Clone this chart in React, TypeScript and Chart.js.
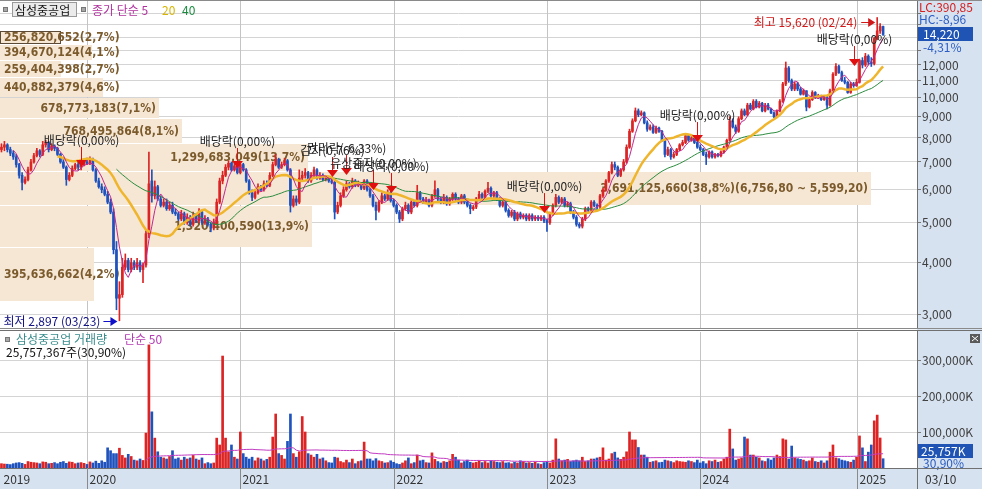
import React, { useEffect, useRef } from 'react';
import { Chart, registerables } from 'chart.js';
Chart.register(...registerables);

// ---------------- data (weekly, 2019-06 .. 2025-03-10) ----------------
const stockName = '삼성중공업';
const opens = [
7500,7600,7700,7500,7350,7200,6900,6500,6250,6350,
6700,7000,7250,7450,7300,7700,7800,7500,7650,7550,
7300,7000,6800,6350,6500,6750,6900,6800,6900,7000,
6950,7100,6700,6300,6100,6000,5850,5600,5300,4300,
3284,3350,3900,4050,3850,4000,3900,4000,3850,3950,
4700,6300,5800,6100,5700,5500,5600,5400,5500,5300,
5250,5100,5250,5000,5150,4950,5200,5050,5300,5000,
5100,4950,4850,5000,5600,6300,6500,6800,6950,6700,
6850,6600,6900,6700,6300,5900,5750,5900,6100,6000,
6200,6150,6500,6900,7100,6800,6900,7050,6700,5500,
5700,5600,6400,6500,6600,6300,6500,6700,6400,6500,
6350,6400,6300,6250,5300,5500,5800,6000,6200,6100,
6300,6150,6200,6050,6300,6000,5800,5500,5350,5600,
5800,5700,5900,5650,5500,5300,5100,5400,5500,5300,
5600,5500,5900,5700,5600,5650,5500,5800,6000,5700,
5600,5750,5550,5700,5850,5700,5600,5800,5600,5500,
5400,5450,5700,5850,5750,5950,6050,5800,5900,5700,
5500,5600,5350,5200,5300,5100,5250,5150,5200,5100,
5200,5100,5150,5100,5150,5050,5000,5250,5500,5750,
5600,5700,5500,5550,5300,5150,4950,4900,5100,5400,
5350,5600,5500,5450,5800,6000,6300,6600,6900,6800,
6500,6700,7000,7600,8300,8800,9300,9100,9200,8700,
8400,8500,8250,8450,8300,7900,7300,7500,7200,7300,
7500,7700,7800,8100,7900,8000,7800,7600,7500,7300,
7200,7400,7200,7300,7250,7400,7600,7900,8800,8500,
8300,8900,9300,9100,9600,9400,9800,9500,9700,9300,
9600,9400,9200,9000,9300,9800,10800,11800,11000,10500,
10800,10500,10200,10400,9500,9900,10300,10000,10100,9900,
10000,9600,10400,11400,11900,11500,11000,10900,10300,10800,
10700,10900,12300,12000,12600,12200,12100,13900,14500,14860];
const highs = [
7750,7850,7750,7600,7450,7300,6950,6600,6450,6800,
7100,7350,7550,7500,7850,7900,7850,7750,7700,7600,
7350,7100,6850,6600,6850,6950,7000,6950,7100,7150,
7200,7150,6750,6400,6200,6100,5950,5700,5400,4500,
3600,4100,4200,4100,4100,4050,4100,4050,4000,4800,
7400,6700,6300,6150,5800,5700,5700,5600,5600,5400,
5300,5350,5300,5250,5200,5300,5250,5400,5350,5200,
5150,5000,5100,5700,6400,6650,6900,7050,7000,6950,
6900,7000,6950,6750,6350,6000,6000,6200,6150,6300,
6300,6600,7000,7300,7150,7000,7150,7100,6750,5800,
5800,6700,6650,6750,6650,6600,6800,6750,6600,6550,
6500,6450,6400,6300,5600,5900,6100,6300,6250,6400,
6350,6300,6250,6350,6350,6050,5850,5600,5650,5900,
5850,6000,5950,5700,5550,5350,5450,5600,5550,5650,
5650,6150,5950,5750,5750,5700,5850,6300,6050,5750,
5850,5800,5750,5900,5900,5750,5850,5850,5650,5550,
5500,5750,5950,5900,6000,6250,6100,5950,5950,5750,
5650,5650,5400,5350,5350,5300,5300,5250,5250,5250,
5250,5200,5200,5200,5200,5100,5300,5550,5850,5800,
5750,5750,5600,5600,5350,5200,5000,5150,5450,5450,
5650,5650,5550,5850,6050,6350,6650,7000,7000,6850,
6750,7100,7700,8400,8900,9450,9400,9300,9250,8800,
8600,8600,8550,8500,8350,7950,7600,7550,7400,7550,
7750,7900,8200,8150,8100,8050,7850,7700,7550,7400,
7450,7450,7350,7350,7450,7650,7950,9000,8900,8600,
9000,9400,9400,9700,9700,9900,9900,9800,9750,9700,
9700,9450,9250,9350,9900,10900,12200,11900,11100,10900,
10900,10600,10500,10400,10000,10400,10350,10200,10150,10100,
10100,10500,11500,12100,12000,11600,11200,10950,10900,10900,
11100,12400,12500,12800,12700,12500,14000,15620,15100,14900];
const lows = [
7400,7450,7400,7250,7100,6800,6400,5990,6200,6300,
6650,6950,7200,7200,7250,7600,7400,7450,7450,7250,
6950,6750,6150,6300,6450,6700,6700,6700,6850,6900,
6900,6650,6250,6050,5900,5800,5550,5250,4200,3080,
2897,3300,3850,3800,3800,3850,3850,3800,3580,3900,
4600,5600,5700,5650,5450,5450,5350,5350,5250,5200,
5050,5050,4950,4950,4900,4900,5000,5000,4950,4950,
4900,4750,4800,4950,5550,6200,6450,6700,6650,6650,
6550,6550,6650,6250,5850,5650,5700,5850,5950,5950,
6100,6100,6450,6850,6750,6750,6850,6650,5300,5450,
5500,5550,6300,6400,6250,6250,6450,6350,6350,6300,
6300,6250,6200,5100,5250,5450,5750,5950,6050,6050,
6100,6100,6000,6000,5950,5750,5450,5070,5300,5550,
5650,5650,5600,5450,5250,5000,5050,5350,5250,5250,
5450,5450,5650,5550,5550,5450,5450,5750,5650,5550,
5550,5500,5500,5650,5650,5550,5550,5550,5450,5250,
5350,5400,5650,5700,5700,5900,5750,5750,5650,5450,
5450,5300,5150,5150,5050,5050,5100,5100,5050,5050,
5050,5050,5050,5050,5000,4760,4950,5200,5450,5550,
5550,5450,5450,5250,5100,4900,4850,4850,5050,5300,
5300,5450,5400,5400,5750,5950,6250,6550,6700,6450,
6450,6650,6950,7550,8250,8750,9000,9050,8650,8300,
8350,8200,8200,8250,7850,7200,7250,7100,7150,7250,
7450,7650,7750,7850,7850,7750,7550,7450,7250,6900,
7150,7150,7150,7200,7200,7350,7550,7850,8450,8200,
8250,8850,9050,9050,9350,9350,9450,9450,9250,9250,
9350,9150,8950,8950,9250,9750,10700,10900,10400,10400,
10400,10150,10150,9300,9450,9850,9950,9950,9850,9850,
9400,9550,10350,11300,11450,10950,10800,10250,10250,10600,
10650,10850,11800,11900,12000,11900,12000,13800,14300,14150];
const closes = [
7600,7700,7500,7350,7200,6900,6500,6250,6350,6700,
7000,7250,7450,7300,7700,7800,7500,7650,7550,7300,
7000,6800,6350,6500,6750,6900,6800,6900,7000,6950,
7100,6700,6300,6100,6000,5850,5600,5300,4300,3284,
3350,3900,4050,3850,4000,3900,4000,3850,3950,4700,
6200,5800,6100,5700,5500,5600,5400,5500,5300,5250,
5100,5250,5000,5150,4950,5200,5050,5300,5000,5100,
4950,4850,5000,5600,6300,6500,6800,6950,6700,6850,
6600,6900,6700,6300,5900,5750,5900,6100,6000,6200,
6150,6500,6900,7100,6800,6900,7050,6700,5500,5700,
5600,6400,6500,6600,6300,6500,6700,6400,6500,6350,
6400,6300,6250,5300,5500,5800,6000,6200,6100,6300,
6150,6200,6050,6300,6000,5800,5500,5350,5600,5800,
5700,5900,5650,5500,5300,5100,5400,5500,5300,5600,
5500,5900,5700,5600,5650,5500,5800,6000,5700,5600,
5750,5550,5700,5850,5700,5600,5800,5600,5500,5400,
5450,5700,5850,5750,5950,6050,5800,5900,5700,5500,
5600,5350,5200,5300,5100,5250,5150,5200,5100,5200,
5100,5150,5100,5150,5050,5000,5250,5500,5750,5600,
5700,5500,5550,5300,5150,4950,4900,5100,5400,5350,
5600,5500,5450,5800,6000,6300,6600,6900,6800,6500,
6700,7000,7600,8300,8800,9300,9100,9200,8700,8400,
8500,8250,8450,8300,7900,7300,7500,7200,7300,7500,
7700,7800,8100,7900,8000,7800,7600,7500,7300,7200,
7400,7200,7300,7250,7400,7600,7900,8800,8500,8300,
8900,9300,9100,9600,9400,9800,9500,9700,9300,9600,
9400,9200,9000,9300,9800,10800,11800,11000,10500,10800,
10500,10200,10400,9500,9900,10300,10000,10100,9900,10000,
9600,10400,11400,11900,11500,11000,10900,10300,10800,10700,
10900,12300,12000,12600,12200,12100,13900,14500,14860,14220];
// weekly volume, thousands of shares
const volumes = [
12000,11000,10500,9500,12000,14000,15000,13000,10000,18000,
16000,15000,14000,12000,17000,16000,12000,13000,15000,12000,
16000,18000,13000,17000,16000,12000,14000,15000,13000,10000,
17000,14000,19000,13000,20000,16000,56000,48000,40000,40000,
55000,35000,28000,38000,32000,22000,20000,25000,21000,97000,
342000,156000,83000,45000,30000,28000,25000,32000,48000,25000,
28000,22000,30000,25000,28000,35000,25000,22000,28000,12000,
15000,12000,14000,83000,64000,311000,83000,45000,64000,30000,
25000,100000,40000,30000,25000,30000,20000,28000,25000,20000,
24000,30000,86000,150000,40000,35000,25000,74000,150000,40000,
30000,45000,143000,100000,40000,36000,30000,38000,25000,28000,
20000,15000,14000,30000,28000,18000,15000,22000,15000,25000,
12000,18000,20000,72000,25000,25000,20000,26000,20000,18000,
14000,15000,20000,16000,12000,10000,14000,20000,28000,12000,
15000,36000,20000,22000,15000,14000,42000,24000,18000,14000,
18000,16000,20000,38000,30000,22000,14000,18000,22000,16000,
14000,16000,20000,15000,18000,14000,20000,18000,16000,15000,
18000,14000,15000,12000,16000,14000,20000,18000,14000,15000,
13000,16000,12000,10000,15000,18000,14000,22000,81000,25000,
20000,22000,24000,18000,20000,22000,20000,30000,18000,20000,
25000,25000,28000,30000,56000,22000,25000,40000,44000,28000,
24000,30000,45000,100000,78000,78000,57000,36000,36000,30000,
16000,18000,20000,15000,16000,22000,20000,18000,15000,20000,
18000,17000,16000,20000,18000,15000,22000,14000,18000,12000,
20000,18000,22000,16000,18000,25000,30000,108000,53000,22000,
25000,28000,86000,81000,36000,36000,30000,28000,20000,18000,
26000,22000,28000,36000,32000,81000,78000,25000,61000,28000,
26000,24000,22000,18000,20000,28000,18000,16000,20000,14000,
20000,44000,64000,28000,26000,22000,20000,18000,16000,22000,
30000,89000,56000,18000,44000,64000,131000,147000,83357,25757.367];

const slotCount = 311;
const yearLabels = ['2019', '2020', '2021', '2022', '2023', '2024', '2025'];
const yearStartIdx = [0, 29, 81, 133, 185, 237, 290];
const lastDateLabel = '03/10';
const highDate = '02/24';
const lowDate = '03/23';

const priceTicks = [3000, 4000, 5000, 6000, 7000, 8000, 9000, 10000, 11000, 12000, 13000, 14000, 15000, 16000];
const volumeTicks = [100000, 200000, 300000];

// price-volume distribution (low price band -> high price band)
const bandVolumes = [395636662, 1320400590, 3691125660, 1299683049, 768495864, 678773183, 440882379, 259404398, 394670124, 256820652];
const bandPcts = [4.2, 13.9, 38.8, 13.7, 8.1, 7.1, 4.6, 2.7, 4.1, 2.7];

// corporate events
const eventIdx = [27, 80, 112, 117, 126, 132, 184, 236, 289];
const eventPrice = [6810, 6770, 6440, 6510, 5990, 5890, 5270, 7820, 11930];
const eventText = ['배당락(0,00%)', '배당락(0,00%)', '감자(0,76%)', '권리락(-6,33%)', '유상증자(0,00%)', '배당락(0,00%)', '배당락(0,00%)', '배당락(0,00%)', '배당락(0,00%)'];

const lcText = 'LC:390,85';
const hcText = 'HC:-8,96';

// ---------------- styles ----------------
const KR = '"Noto Sans CJK KR", "Noto Sans", sans-serif';
const UP = '#dc2424';
const DOWN = '#1f52bd';
const AXIS_BG = '#d7e2f0';
const GRID = '#d4d4d4';
const BAND_BG = '#f6e7d4';
const BAND_TEXT = '#7b5a2c';
const BAND_FONT = 'bold 12px "DejaVu Sans Condensed", "DejaVu Sans", sans-serif';
const BAND_SHIFT = 3;

const fmt = (n: number) => Math.round(n).toLocaleString('en-US');
const dec2 = (n: number) => { const [a, b] = n.toFixed(2).split('.'); return Number(a).toLocaleString('en-US') + ',' + b; };
const pct1 = (n: number) => n.toFixed(1).replace('.', ',') + '%';
const pct2 = (n: number) => n.toFixed(2).replace('.', ',') + '%';

function sma(src: number[], n: number) {
  return src.map((_, i) => (i < n - 1 ? null : src.slice(i - n + 1, i + 1).reduce((s, v) => s + v, 0) / n));
}

const candleColors = closes.map((c, i) => (c >= opens[i] ? UP : DOWN));

function drawArrow(ctx: CanvasRenderingContext2D, x1: number, y: number, x2: number, color: string) {
  ctx.strokeStyle = color; ctx.fillStyle = color; ctx.lineWidth = 1;
  const dir = Math.sign(x2 - x1);
  ctx.beginPath(); ctx.moveTo(x1, y + 0.5); ctx.lineTo(x2 - dir * 5, y + 0.5); ctx.stroke();
  ctx.beginPath(); ctx.moveTo(x2, y + 0.5); ctx.lineTo(x2 - dir * 7, y - 4); ctx.lineTo(x2 - dir * 7, y + 5); ctx.closePath(); ctx.fill();
}

const noPad = (s: any) => { s.width = 65; s.paddingTop = 0; s.paddingBottom = 0; };

const pricePlugin = {
  id: 'priceDecor',
  beforeDraw(chart: any) {
    const { ctx, chartArea: a, width, height } = chart;
    ctx.save();
    ctx.fillStyle = '#fff'; ctx.fillRect(0, 0, width, height);
    ctx.fillStyle = AXIS_BG; ctx.fillRect(a.right, 0, width - a.right, height);
    ctx.restore();
  },
  beforeDatasetsDraw(chart: any) {
    const { ctx, chartArea: a } = chart;
    const xs = chart.scales.x, ys = chart.scales.y;
    ctx.save();
    // year lines
    ctx.strokeStyle = '#c4c4c4'; ctx.lineWidth = 1;
    yearStartIdx.slice(1).forEach((i) => {
      const px = Math.round(xs.getPixelForValue(i)) + 0.5;
      ctx.beginPath(); ctx.moveTo(px, a.top); ctx.lineTo(px, a.bottom); ctx.stroke();
    });
    // volume-at-price bands
    const lo0 = Math.min(...closes), hi0 = Math.max(...closes);
    const step = (hi0 - lo0) / bandVolumes.length;
    const maxPct = Math.max(...bandPcts);
    const span = (a.right - a.left) * 0.95;
    const last = closes[closes.length - 1];
    ctx.font = BAND_FONT; ctx.textBaseline = 'middle';
    bandVolumes.forEach((vol, k) => {
      const lo = lo0 + k * step, hi = lo + step;
      const yt = Math.round(ys.getPixelForValue(hi)) + BAND_SHIFT, yb = Math.round(ys.getPixelForValue(lo)) + BAND_SHIFT;
      const w = Math.round(span * bandPcts[k] / maxPct);
      ctx.fillStyle = BAND_BG; ctx.fillRect(a.left, yt + 1, w, yb - yt - 1);
      if (last >= lo && last <= hi) {
        ctx.strokeStyle = '#5a4a36'; ctx.strokeRect(a.left + 0.5, yt + 1.5, w - 1, yb - yt - 2);
      }
      let txt = `${fmt(vol)}(${pct1(bandPcts[k])})`;
      if (bandPcts[k] === maxPct) txt += `(${dec2(hi)} ~ ${dec2(lo)})`;
      const tw = ctx.measureText(txt).width;
      ctx.fillStyle = BAND_TEXT;
      const ty = (yt + yb) / 2 + 1;
      if (tw + 6 <= w) { ctx.textAlign = 'right'; ctx.fillText(txt, a.left + w - 3, ty); }
      else { ctx.textAlign = 'left'; ctx.fillText(txt, a.left + 4, ty); }
    });
    ctx.restore();
  },
  afterDatasetsDraw(chart: any) {
    const { ctx } = chart;
    const xs = chart.scales.x, ys = chart.scales.y;
    ctx.save();
    // events
    ctx.font = `12px ${KR}`; ctx.textBaseline = 'middle'; ctx.textAlign = 'center';
    eventIdx.forEach((idx, k) => {
      const px = Math.round(xs.getPixelForValue(idx)) + 0.5;
      const tip = ys.getPixelForValue(eventPrice[k]);
      ctx.strokeStyle = '#e01010'; ctx.lineWidth = 1;
      ctx.beginPath(); ctx.moveTo(px, tip - 20); ctx.lineTo(px, tip - 6); ctx.stroke();
      ctx.fillStyle = '#e01010';
      ctx.beginPath(); ctx.moveTo(px - 5.5, tip - 7); ctx.lineTo(px + 5.5, tip - 7); ctx.lineTo(px, tip); ctx.closePath(); ctx.fill();
      ctx.fillStyle = '#222';
      ctx.fillText(eventText[k], px, tip - 27);
    });
    // highest / lowest
    const maxH = Math.max(...highs), hi = highs.indexOf(maxH);
    const minL = Math.min(...lows), li = lows.indexOf(minL);
    const hx = xs.getPixelForValue(hi), hy = Math.round(ys.getPixelForValue(maxH)) + 4;
    drawArrow(ctx, hx - 16, hy, hx - 2, '#d01818');
    ctx.fillStyle = '#d01818'; ctx.textAlign = 'right';
    ctx.fillText(`최고 ${fmt(maxH)} (${highDate})`, hx - 20, hy);
    const lx = xs.getPixelForValue(li), ly = Math.round(ys.getPixelForValue(minL));
    drawArrow(ctx, lx - 16, ly, lx - 2, '#1010c8');
    ctx.fillStyle = '#101080'; ctx.textAlign = 'right';
    ctx.fillText(`최저 ${fmt(minL)} (${lowDate})`, lx - 19, ly);
    // legend
    ctx.textAlign = 'left';
    ctx.fillStyle = '#a8a8a8'; ctx.fillRect(3, 7, 5, 5); ctx.strokeStyle = '#777'; ctx.strokeRect(3.5, 7.5, 4, 4);
    ctx.fillStyle = '#ebebeb'; ctx.fillRect(12, 2, 65, 15);
    ctx.strokeStyle = '#9a9a9a'; ctx.strokeRect(12.5, 2.5, 64, 14);
    ctx.fillStyle = '#111'; ctx.fillText(stockName, 15, 10);
    ctx.fillStyle = '#a8a8a8'; ctx.fillRect(81, 7, 5, 5); ctx.strokeStyle = '#777'; ctx.strokeRect(81.5, 7.5, 4, 4);
    ctx.fillStyle = '#b0309e'; ctx.fillText('종가 단순 5', 92, 10);
    ctx.fillStyle = '#d8b400'; ctx.fillText('20', 162, 10);
    ctx.fillStyle = '#1c8a40'; ctx.fillText('40', 182, 10);
    ctx.restore();
  },
  afterDraw(chart: any) {
    const { ctx, chartArea: a, width, height } = chart;
    const ys = chart.scales.y;
    ctx.save();
    ctx.font = `12px ${KR}`; ctx.textBaseline = 'middle'; ctx.textAlign = 'left';
    ctx.fillStyle = '#d42020'; ctx.fillText(lcText, a.right + 2, 7);
    ctx.fillStyle = '#2a5cc4'; ctx.fillText(hcText, a.right + 2, 19);
    const last = closes[closes.length - 1], prev = closes[closes.length - 2];
    const by = Math.round(ys.getPixelForValue(last));
    ctx.fillStyle = '#1f54b4'; ctx.fillRect(a.right + 1, by - 7, 55, 14);
    ctx.fillStyle = '#fff'; ctx.fillText(fmt(last), a.right + 6, by);
    ctx.fillStyle = AXIS_BG; ctx.fillRect(a.right + 5, by + 7, 50, 12);
    ctx.fillStyle = '#2a5cc4'; ctx.fillText(pct2((last / prev - 1) * 100), a.right + 6, by + 13);
    // frame
    ctx.strokeStyle = '#8a8a8a'; ctx.lineWidth = 1;
    ctx.beginPath(); ctx.moveTo(0, 0.5); ctx.lineTo(width, 0.5); ctx.stroke();
    ctx.beginPath(); ctx.moveTo(0, height - 1.5); ctx.lineTo(width, height - 1.5); ctx.stroke();
    ctx.restore();
  },
};

const volumePlugin = {
  id: 'volDecor',
  beforeDraw(chart: any) {
    const { ctx, chartArea: a, width, height } = chart;
    ctx.save();
    ctx.fillStyle = '#fff'; ctx.fillRect(0, 0, width, height);
    ctx.fillStyle = AXIS_BG; ctx.fillRect(a.right, 0, width - a.right, height);
    ctx.fillRect(0, a.bottom, width, height - a.bottom);
    ctx.restore();
  },
  beforeDatasetsDraw(chart: any) {
    const { ctx, chartArea: a } = chart;
    const xs = chart.scales.x;
    ctx.save();
    ctx.strokeStyle = '#c4c4c4'; ctx.lineWidth = 1;
    yearStartIdx.slice(1).forEach((i) => {
      const px = Math.round(xs.getPixelForValue(i)) + 0.5;
      ctx.beginPath(); ctx.moveTo(px, a.top); ctx.lineTo(px, a.bottom); ctx.stroke();
    });
    ctx.restore();
  },
  afterDraw(chart: any) {
    const { ctx, chartArea: a, width, height } = chart;
    const xs = chart.scales.x;
    ctx.save();
    ctx.font = `12px ${KR}`; ctx.textBaseline = 'middle'; ctx.textAlign = 'left';
    // legend
    ctx.fillStyle = '#a8a8a8'; ctx.fillRect(5, 7, 5, 5); ctx.strokeStyle = '#777'; ctx.strokeRect(5.5, 7.5, 4, 4);
    ctx.fillStyle = '#3a8c8c'; ctx.fillText(`${stockName} 거래량`, 16, 9);
    ctx.fillStyle = '#b43cb4'; ctx.fillText('단순 50', 124, 9);
    const last = volumes[volumes.length - 1], prev = volumes[volumes.length - 2];
    ctx.fillStyle = '#111'; ctx.fillText(`${fmt(last * 1000)}주(${pct2(last / prev * 100)})`, 6, 22);
    // close button
    ctx.fillStyle = '#5a5a5a'; ctx.fillRect(width - 12, 4, 10, 9);
    ctx.strokeStyle = '#fff'; ctx.beginPath(); ctx.moveTo(width - 10, 6); ctx.lineTo(width - 4, 11); ctx.moveTo(width - 4, 6); ctx.lineTo(width - 10, 11); ctx.stroke();
    // right labels
    const by = Math.min(chart.scales.y.getPixelForValue(last), a.bottom - 17);
    ctx.fillStyle = '#1f54b4'; ctx.fillRect(a.right + 1, by - 7, 55, 14);
    ctx.fillStyle = '#fff'; ctx.fillText(`${fmt(last)}K`, a.right + 4, by);
    ctx.fillStyle = AXIS_BG; ctx.fillRect(a.right + 5, by + 7, 50, 11);
    ctx.fillStyle = '#2a5cc4'; ctx.fillText(pct2(last / prev * 100), a.right + 6, by + 12);
    // x strip
    ctx.strokeStyle = '#707070';
    ctx.beginPath(); ctx.moveTo(0, a.bottom + 0.5); ctx.lineTo(width, a.bottom + 0.5); ctx.stroke();
    ctx.fillStyle = '#333';
    yearStartIdx.forEach((i, k) => {
      const px = Math.round(xs.getPixelForValue(i)) + 0.5;
      if (i > 0) { ctx.strokeStyle = '#8a8a8a'; ctx.beginPath(); ctx.moveTo(px, a.bottom); ctx.lineTo(px, height); ctx.stroke(); }
      ctx.fillText(yearLabels[k], px + 2, a.bottom + 11);
    });
    ctx.strokeStyle = '#707070';
    ctx.beginPath(); ctx.moveTo(a.right + 0.5, 0); ctx.lineTo(a.right + 0.5, height); ctx.stroke();
    ctx.fillText(lastDateLabel, a.right + 8, a.bottom + 11);
    ctx.beginPath(); ctx.moveTo(0, 0.5); ctx.lineTo(width, 0.5); ctx.stroke();
    ctx.restore();
  },
};

export default function App() {
  const pRef = useRef<HTMLCanvasElement>(null);
  const vRef = useRef<HTMLCanvasElement>(null);
  useEffect(() => {
    const labels = Array.from({ length: slotCount }, (_, i) => String(i));
    const bodies = closes.map((c, i) => [opens[i], c]);
    const wicks = lows.map((l, i) => [l, highs[i]]);
    const common = {
      animation: false as const,
      responsive: false,
      maintainAspectRatio: false,
      events: [],
      plugins: { legend: { display: false }, tooltip: { enabled: false } },
    };
    const priceChart = new Chart(pRef.current!, {
      type: 'bar',
      data: {
        labels,
        datasets: [
          { type: 'line', data: sma(closes, 5), borderColor: '#c2288e', borderWidth: 1, pointRadius: 0, order: 0, spanGaps: true },
          { type: 'line', data: sma(closes, 20), borderColor: '#efb52c', borderWidth: 2.5, pointRadius: 0, order: 1, spanGaps: true },
          { type: 'line', data: sma(closes, 40), borderColor: '#2b8c3e', borderWidth: 1, pointRadius: 0, order: 2, spanGaps: true },
          { type: 'bar', data: bodies, backgroundColor: candleColors, barThickness: 2, grouped: false, minBarLength: 1, order: 3 },
          { type: 'bar', data: wicks, backgroundColor: candleColors, barThickness: 1, grouped: false, order: 4 },
        ],
      } as any,
      options: {
        ...common,
        layout: { padding: { top: 1, bottom: 2, left: 0, right: 0 } },
        scales: {
          x: { display: false, offset: true },
          y: {
            type: 'logarithmic', position: 'right', min: 2783, max: 17122,
            afterFit: noPad,
            afterBuildTicks: (s: any) => { s.ticks = priceTicks.map((v) => ({ value: v })); },
            ticks: { callback: (v: any) => (v <= 12000 ? fmt(v) : ''), color: '#404040', font: { family: KR, size: 12 }, padding: 1, autoSkip: false },
            grid: { color: GRID, tickColor: '#777', tickLength: 4 },
            border: { color: '#707070' },
          },
        },
      } as any,
      plugins: [pricePlugin],
    });
    const volChart = new Chart(vRef.current!, {
      type: 'bar',
      data: {
        labels,
        datasets: [
          { type: 'line', data: sma(volumes, 50), borderColor: '#c23cc2', borderWidth: 1, pointRadius: 0, order: 0, spanGaps: true },
          { type: 'bar', data: volumes, backgroundColor: candleColors, barThickness: 2, grouped: false, order: 1 },
        ],
      } as any,
      options: {
        ...common,
        layout: { padding: { top: 2, bottom: 21, left: 0, right: 0 } },
        scales: {
          x: { display: false, offset: true },
          y: {
            position: 'right', min: 0, max: 377778,
            afterFit: noPad,
            afterBuildTicks: (s: any) => { s.ticks = volumeTicks.map((v) => ({ value: v })); },
            ticks: { callback: (v: any) => `${fmt(v)}K`, color: '#404040', font: { family: KR, size: 12 }, padding: 1 },
            grid: { color: GRID, tickColor: '#777', tickLength: 4 },
            border: { color: '#707070' },
          },
        },
      } as any,
      plugins: [volumePlugin],
    });
    return () => { priceChart.destroy(); volChart.destroy(); };
  }, []);
  return (
    <div style={{ position: 'absolute', left: 0, top: 0, width: 982, height: 489, background: '#fff', overflow: 'hidden' }}>
      <canvas ref={pRef} width={982} height={330} style={{ position: 'absolute', left: 0, top: 0 }} />
      <canvas ref={vRef} width={982} height={159} style={{ position: 'absolute', left: 0, top: 330 }} />
    </div>
  );
}
